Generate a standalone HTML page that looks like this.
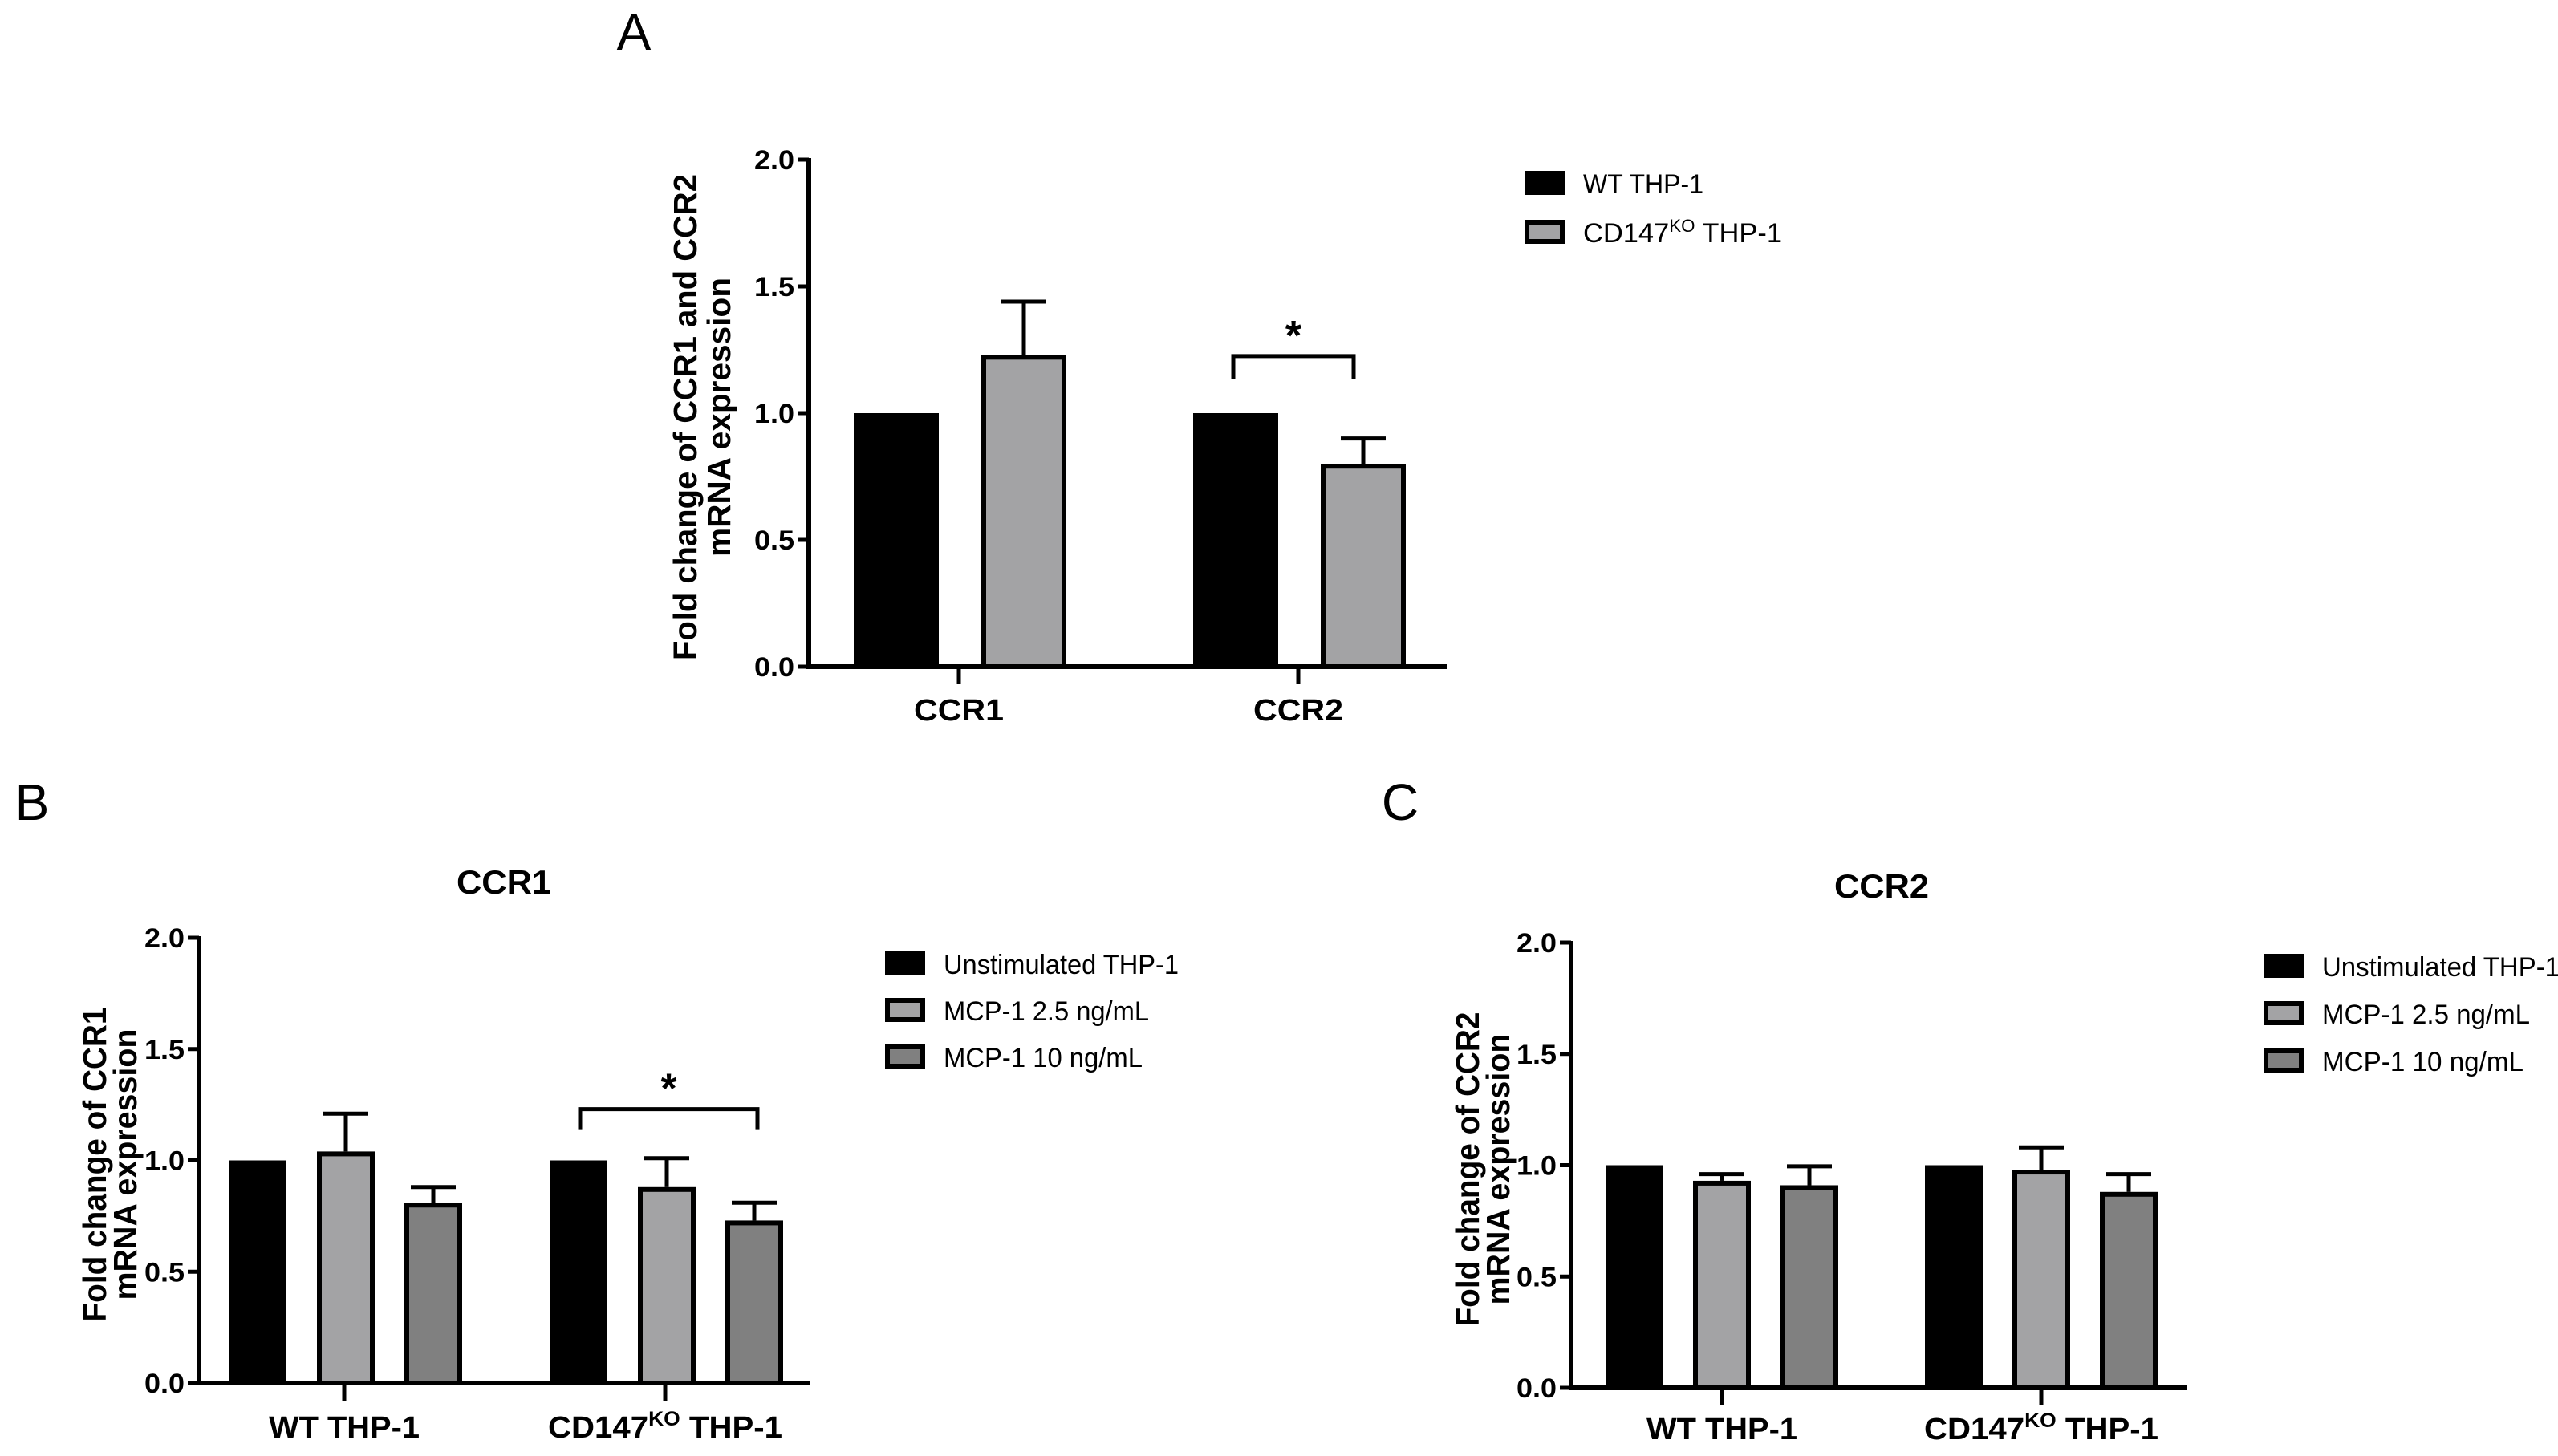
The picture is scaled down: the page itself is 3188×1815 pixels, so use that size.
<!DOCTYPE html>
<html><head><meta charset="utf-8"><style>
html,body{margin:0;padding:0;background:#fff;}
svg{display:block;font-family:"Liberation Sans",Arial,sans-serif;}
</style></head><body>
<svg id="fig" width="3188" height="1815" viewBox="0 0 3188 1815" xmlns="http://www.w3.org/2000/svg">
<rect width="3188" height="1815" fill="#fff"/>
<text x="790" y="62" font-size="64" text-anchor="middle">A</text>
<text x="40" y="1022" font-size="64" text-anchor="middle">B</text>
<text x="1745" y="1022" font-size="64" text-anchor="middle">C</text>
</svg>
<script>
// ---- Panel A data ----
const catsA = ["CCR1", "CCR2"];
const seriesA = ["WT THP-1", "CD147KO THP-1"];
const valsA_wt = [1.0, 1.0];
const valsA_ko = [1.23, 0.80];
const errA_wt = [0, 0];
const errA_ko = [0.21, 0.10];
// ---- Panel B data ----
const catsB = ["WT THP-1", "CD147KO THP-1"];
const valsB_unstim = [1.0, 1.0];
const valsB_low = [1.04, 0.88];
const valsB_high = [0.81, 0.73];
const errB_unstim = [0, 0];
const errB_low = [0.17, 0.13];
const errB_high = [0.07, 0.08];
// ---- Panel C data ----
const catsC = ["WT THP-1", "CD147KO THP-1"];
const valsC_unstim = [1.0, 1.0];
const valsC_low = [0.93, 0.98];
const valsC_high = [0.91, 0.88];
const errC_unstim = [0, 0];
const errC_low = [0.03, 0.10];
const errC_high = [0.085, 0.08];
const seriesBC = ["Unstimulated THP-1", "MCP-1 2.5 ng/mL", "MCP-1 10 ng/mL"];
const yTicks = [0.0, 0.5, 1.0, 1.5, 2.0];
const yTickLabels = ["0.0", "0.5", "1.0", "1.5", "2.0"];

const NS = "http://www.w3.org/2000/svg";
const svg = document.getElementById("fig");
function mk(tag, attrs, parent) {
  const e = document.createElementNS(NS, tag);
  for (const k in attrs) e.setAttribute(k, attrs[k]);
  (parent || svg).appendChild(e);
  return e;
}
const fills = ["#000000", "#a3a3a5", "#808080"];

function panel(cfg) {
  const g = mk("g", {});
  
  
  const y = v => cfg.y0 - (v / 2.0) * (cfg.y0 - cfg.y2);
  cfg.series.forEach((vals, si) => {
    vals.forEach((v, ci) => {
      const cx = cfg.catX[ci] + cfg.offsets[si];
      const x0 = cx - cfg.barW / 2;
      const top = y(v);
      const err = cfg.errs[si][ci];
      if (err > 0) {
        const ln = mk("line", {x1: cx, x2: cx, y1: top, y2: y(v + err), stroke: "#000", "stroke-width": 5}, g);
        
        
        const cap = mk("line", {x1: cx - 28, x2: cx + 28, y1: y(v + err), y2: y(v + err), stroke: "#000", "stroke-width": 5}, g);
        
        
      }
      const r = mk("rect", {x: x0 + 3, y: top + 3, width: cfg.barW - 6, height: Math.max(0, cfg.y0 - top - 3), fill: fills[si], stroke: "#000", "stroke-width": 6}, g);
      
      
    });
  });
  const ya = mk("line", {x1: cfg.ax, x2: cfg.ax, y1: cfg.y2 - 2, y2: cfg.y0 + 3, stroke: "#000", "stroke-width": 6}, g);
  
  
  yTicks.forEach((t, i) => {
    const tk = mk("line", {x1: cfg.ax - 14, x2: cfg.ax, y1: y(t), y2: y(t), stroke: "#000", "stroke-width": 5}, g);
    
    
    const tl = mk("text", {x: cfg.ax - 18, y: y(t) + 12, "font-size": 34, "font-weight": "bold", "text-anchor": "end", textLength: 50, lengthAdjust: "spacingAndGlyphs"}, g);
    tl.textContent = yTickLabels[i];
    
    
  });
  const xa = mk("line", {x1: cfg.ax - 3, x2: cfg.axEnd, y1: cfg.y0, y2: cfg.y0, stroke: "#000", "stroke-width": 6}, g);
  
  
  cfg.cats.forEach((c, ci) => {
    const tk = mk("line", {x1: cfg.catX[ci], x2: cfg.catX[ci], y1: cfg.y0, y2: cfg.y0 + 22, stroke: "#000", "stroke-width": 5}, g);
    
    
    const t = mk("text", {x: cfg.catX[ci], y: cfg.catY, "font-size": 38, "font-weight": "bold", "text-anchor": "middle"}, g);
    
    
    if (c.indexOf("CD147KO") === 0) {
      t.setAttribute("textLength", cfg.koLen); t.setAttribute("lengthAdjust", "spacingAndGlyphs");
      t.innerHTML = 'CD147<tspan font-size="25" dy="-15">KO</tspan><tspan dy="15"> THP-1</tspan>';
    } else {
      t.setAttribute("textLength", cfg.wtLen); t.setAttribute("lengthAdjust", "spacingAndGlyphs");
      t.textContent = c;
    }
  });
  const cy = (cfg.y0 + cfg.y2) / 2 + 5;
  cfg.ytitle.forEach((line, i) => {
    const tx = cfg.ytX[i];
    const t = mk("text", {x: tx, y: cy, transform: `rotate(-90 ${tx} ${cy})`, "font-size": 41, "font-weight": "bold", "text-anchor": "middle", textLength: cfg.ytLen[i], lengthAdjust: "spacingAndGlyphs"}, g);
    t.textContent = line;
    
    
  });
  if (cfg.title) {
    const t = mk("text", {x: cfg.title[1], y: cfg.title[2], "font-size": 42, "font-weight": "bold", "text-anchor": "middle", textLength: 118, lengthAdjust: "spacingAndGlyphs"}, g);
    t.textContent = cfg.title[0];
    
    
  }
  if (cfg.sig) {
    const s = cfg.sig;
    const yb = y(s.v), yl = y(s.v - 0.09);
    const p = mk("path", {d: `M${s.x1},${yl} L${s.x1},${yb} L${s.x2},${yb} L${s.x2},${yl}`, fill: "none", stroke: "#000", "stroke-width": 5}, g);
    
    
    const st = mk("text", {x: (s.x1 + s.x2) / 2, y: yb - 8, "font-size": 52, "font-weight": "bold", "text-anchor": "middle"}, g);
    st.textContent = "*";
    
    
  }
  cfg.legendNames.forEach((n, i) => {
    const ly = cfg.leg.y + i * cfg.leg.dy;
    const r = mk("rect", {x: cfg.leg.x + 3, y: ly + 3, width: 44, height: 24, fill: fills[i], stroke: "#000", "stroke-width": 6}, g);
    
    
    const t = mk("text", {x: cfg.leg.x + 73, y: ly + 28, "font-size": 34, "text-anchor": "start"}, g);
    
    
    if (n.indexOf("CD147KO") === 0) {
      t.setAttribute("textLength", 248); t.setAttribute("lengthAdjust", "spacingAndGlyphs");
      t.innerHTML = 'CD147<tspan font-size="22" dy="-13">KO</tspan><tspan dy="13"> THP-1</tspan>';
    } else {
      t.setAttribute("textLength", cfg.legLens[i]); t.setAttribute("lengthAdjust", "spacingAndGlyphs");
      t.textContent = n;
    }
  });
}

panel({name: "panel-a-chart", key: "a", y0: 831, y2: 199, ax: 1008, axEnd: 1803,
  cats: catsA, catX: [1195, 1618], catY: 898, wtLen: 112, koLen: 112,
  offsets: [-78, 81], barW: 106,
  series: [valsA_wt, valsA_ko], errs: [errA_wt, errA_ko],
  ytitle: ["Fold change of CCR1 and CCR2", "mRNA expression"], ytX: [868, 910], ytLen: [606, 348],
  sig: {x1: 1537, x2: 1687, v: 1.225},
  legendNames: seriesA, legLens: [150, 248], leg: {x: 1900, y: 213, dy: 61}});

panel({name: "panel-b-chart", key: "b", y0: 1724, y2: 1169, ax: 248, axEnd: 1010,
  cats: catsB, catX: [429, 829], catY: 1792, wtLen: 188, koLen: 292,
  offsets: [-108, 2, 111], barW: 72,
  series: [valsB_unstim, valsB_low, valsB_high], errs: [errB_unstim, errB_low, errB_high],
  ytitle: ["Fold change of CCR1", "mRNA expression"], ytX: [132, 170], ytLen: [392, 338],
  title: ["CCR1", 628, 1114],
  sig: {x1: 723, x2: 944, v: 1.23},
  legendNames: seriesBC, legLens: [293, 256, 248], leg: {x: 1103, y: 1186, dy: 58}});

panel({name: "panel-c-chart", key: "c", y0: 1730, y2: 1175, ax: 1958, axEnd: 2726,
  cats: catsC, catX: [2146, 2544], catY: 1794, wtLen: 188, koLen: 292,
  offsets: [-109, 0, 109], barW: 72,
  series: [valsC_unstim, valsC_low, valsC_high], errs: [errC_unstim, errC_low, errC_high],
  ytitle: ["Fold change of CCR2", "mRNA expression"], ytX: [1843, 1881], ytLen: [392, 338],
  title: ["CCR2", 2345, 1119],
  legendNames: seriesBC, legLens: [296, 259, 251], leg: {x: 2821, y: 1189, dy: 59}});
</script>
</body></html>
